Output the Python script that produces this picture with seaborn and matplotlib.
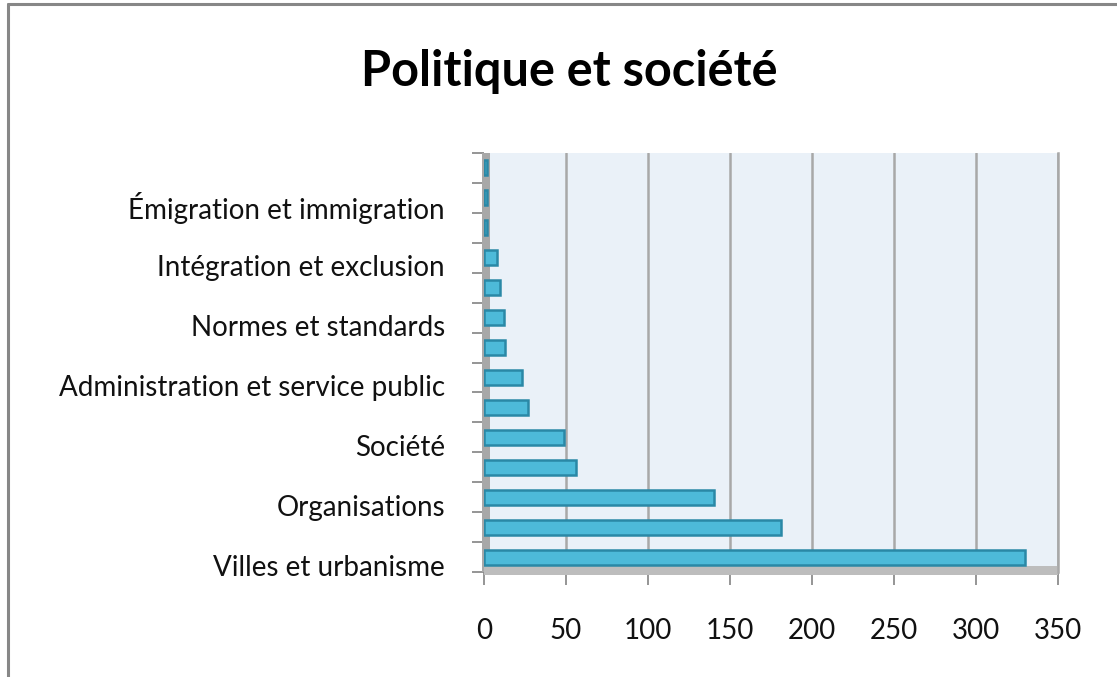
import matplotlib
matplotlib.use("Agg")
import matplotlib.pyplot as plt
import matplotlib.transforms as mtransforms
from matplotlib.lines import Line2D
from matplotlib.patches import Rectangle
import seaborn as sns
import pandas as pd

# Data (top to bottom as displayed)
positions = ["p13", "p12", "p11", "p10", "p9", "p8", "p7", "p6", "p5", "p4", "p3", "p2", "p1", "p0"]
labels = ["", "Émigration et immigration", "", "Intégration et exclusion", "",
          "Normes et standards", "", "Administration et service public", "",
          "Société", "", "Organisations", "", "Villes et urbanisme"]
values = [2, 2, 2, 8, 10, 12, 13, 23, 27, 49, 56, 140, 181, 330]
xticks = [0, 50, 100, 150, 200, 250, 300, 350]
title = "Politique et société"

sns.set_theme(style="white")
plt.rcParams["font.family"] = ["Lato", "DejaVu Sans"]

W, H, DPI = 1117, 677, 100
fig = plt.figure(figsize=(W / DPI, H / DPI), dpi=DPI, facecolor="white")
ax_l, ax_r, ax_t, ax_b = 484, 1058, 153, 572
ax = fig.add_axes([ax_l / W, (H - ax_b) / H, (ax_r - ax_l) / W, (ax_b - ax_t) / H])
ax.set_facecolor("#EAF1F8")

df = pd.DataFrame({"pos": positions, "value": values})
sns.barplot(data=df, x="value", y="pos", order=positions, orient="h",
            color="#4DBAD9", edgecolor="#2A88A6", linewidth=1.8,
            width=0.5, saturation=1, ax=ax, zorder=3)

ax.set_xlim(0, 350)
ax.set_ylim(len(positions) - 0.5, -0.5)

# back-wall gridlines
for xv in xticks[1:]:
    ax.axvline(xv, color="#A8A8A8", lw=1.8, zorder=1)

# pseudo-3D left wall and floor
ax.add_patch(Rectangle((-0.003, 0), 0.014, 1, transform=ax.transAxes,
                       facecolor="#A8A8A8", edgecolor="none", zorder=2, clip_on=False))
ax.add_patch(Rectangle((0, -0.008), 1.0, 0.022, transform=ax.transAxes,
                       facecolor="#BDBDBD", edgecolor="none", zorder=2, clip_on=False))

for s in ["top", "left", "bottom"]:
    ax.spines[s].set_visible(False)
ax.spines["right"].set_color("#A8A8A8")
ax.spines["right"].set_linewidth(1.8)

# y ticks: labels at centers, tick marks at boundaries
ax.set_yticks(range(len(positions)))
ax.set_yticklabels(labels)
ax.set_yticks([i - 0.5 for i in range(len(positions) + 1)], minor=True)
ax.tick_params(axis="y", which="major", length=0, pad=28, labelsize=20, labelcolor="#111111")
ax.tick_params(axis="y", which="minor", length=9, width=1.3, color="#8C8C8C", left=True)
off = mtransforms.ScaledTranslation(0, -8 / DPI, fig.dpi_scale_trans)
for t in ax.get_yticklabels():
    t.set_transform(t.get_transform() + off)

ax.set_xticks(xticks)
ax.set_xticklabels([str(v) for v in xticks])
ax.tick_params(axis="x", which="major", length=9, width=1.3, color="#8C8C8C",
               bottom=True, pad=24, labelsize=20, labelcolor="#111111")
ax.set_xlabel("")
ax.set_ylabel("")

fig.text(569 / W, 1 - 72 / H, title, ha="center", va="center",
         fontsize=35, fontweight="bold", color="black")

# chart-area border (top and left)
fig.add_artist(Line2D([8 / W, 1], [1 - 4 / H, 1 - 4 / H], color="#878787", lw=2.2))
fig.add_artist(Line2D([8 / W, 8 / W], [0, 1 - 4 / H], color="#878787", lw=2.2))

fig.savefig("out.png", dpi=DPI, facecolor="white")
